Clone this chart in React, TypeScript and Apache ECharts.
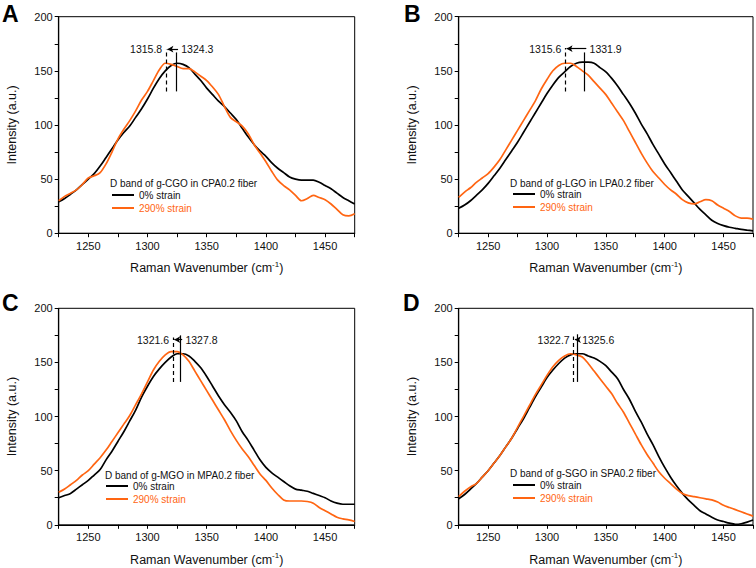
import React, { useEffect, useRef } from 'react';
import * as echarts from 'echarts';

// ---- data ----
const wavenumbers = [
  1225, 1230, 1235, 1240, 1245, 1250, 1255, 1260, 1265, 1270,
  1275, 1280, 1285, 1290, 1295, 1300, 1305, 1310, 1315, 1320,
  1325, 1330, 1335, 1340, 1345, 1350, 1355, 1360, 1365, 1370,
  1375, 1380, 1385, 1390, 1395, 1400, 1405, 1410, 1415, 1420,
  1425, 1430, 1435, 1440, 1445, 1450, 1455, 1460, 1465, 1470,
  1475,
];

const seriesNames = ['0% strain', '290% strain'];
const panelLetters = ['A', 'B', 'C', 'D'];
const panelTitles = [
  'D band of g-CGO in CPA0.2 fiber',
  'D band of g-LGO in LPA0.2 fiber',
  'D band of g-MGO in MPA0.2 fiber',
  'D band of g-SGO in SPA0.2 fiber',
];

const cgoUnstrained = [
  29, 32, 36, 40, 45, 50, 55, 62, 70, 78,
  86, 93, 99, 107, 115, 124, 134, 143, 150, 155,
  157, 156, 153, 147, 141, 134, 128, 122, 117, 111,
  105, 97, 89, 82, 76, 71, 65, 60, 56, 52,
  50, 49, 49, 49, 47, 44, 41, 37, 33, 30,
  27,
];
const cgoStrained = [
  30, 34, 37, 40, 45, 51, 53, 56, 64, 75,
  87, 96, 104, 113, 123, 131, 141, 151, 157, 156,
  154, 152, 152, 149, 145, 141, 135, 128, 117, 107,
  103, 99, 92, 82, 74, 66, 57, 49, 44, 40,
  35, 30, 32, 35, 33, 31, 27, 22, 17, 16,
  18,
];
const lgoUnstrained = [
  23, 26, 30, 35, 40, 46, 53, 60, 68, 76,
  84, 93, 102, 111, 120, 129, 137, 144, 149, 154,
  157, 158, 158, 157, 153, 149, 143, 136, 128, 120,
  111, 101, 92, 82, 73, 64, 56, 48, 40, 34,
  28, 22, 17, 12, 9, 7, 5.5, 4.5, 3.5, 2.8,
  2.2,
];
const lgoStrained = [
  33, 38, 42, 47, 51, 55, 61, 68, 77, 86,
  95, 104, 113, 122, 133, 142, 150, 155, 157, 157,
  154, 150, 146, 140, 134, 128, 120, 112, 104, 94,
  84, 74, 65, 57, 51, 45, 40, 36, 31, 28,
  27, 29, 31, 30, 26, 23, 20, 16, 14, 14,
  13,
];
const mgoUnstrained = [
  25, 27, 29, 33, 37, 41, 46, 51, 60, 68,
  77, 86, 96, 106, 118, 128, 137, 144, 150, 155,
  158, 158, 156, 151, 145, 137, 128, 119, 111, 104,
  96, 86, 78, 69, 60, 53, 48, 44, 40, 36,
  33, 32, 31, 29, 27, 25, 22, 20, 19, 19,
  19,
];
const mgoStrained = [
  30, 33, 37, 41, 46, 50, 56, 62, 69, 77,
  85, 93, 101, 111, 121, 132, 143, 151, 157, 160,
  160, 157, 151, 142, 133, 124, 115, 106, 97, 87,
  78, 70, 63, 55, 47, 41, 34, 28, 23, 22,
  22, 22, 21.5, 20, 16, 13, 10, 7, 5.5, 4.5,
  3,
];
const sgoUnstrained = [
  24, 28, 33, 38, 44, 50, 57, 64, 72, 80,
  89, 98, 108, 118, 127, 136, 143, 149, 154, 157,
  158, 158, 156, 154, 151, 147, 141, 135, 125, 116,
  105, 95, 84, 74, 63, 53, 44, 36, 29, 23,
  18, 13, 10, 7, 4.5, 3, 1.5, 0.5, 1, 2.5,
  4.5,
];
const sgoStrained = [
  26, 31, 35, 38, 44, 50, 57, 64, 72, 80,
  90, 100, 110, 120, 129, 138, 146, 152, 156, 158,
  157, 155, 149, 142, 135, 128, 121, 112, 104, 94,
  84, 74, 65, 57, 49, 43, 38, 33, 29, 27,
  26, 25, 24, 23, 21, 18, 16, 14, 12, 10,
  8,
];

const unstrainedSets = [cgoUnstrained, lgoUnstrained, mgoUnstrained, sgoUnstrained];
const strainedSets = [cgoStrained, lgoStrained, mgoStrained, sgoStrained];

// peak positions (cm-1) annotated in each panel
const peakStrained = [1315.8, 1315.6, 1321.6, 1322.7];
const peakUnstrained = [1324.3, 1331.9, 1327.8, 1325.6];
// annotation extents in intensity units
const arrowLevel = [170, 170.5, 171, 171];
const dashedTop = [170, 171, 173, 174];
const solidTop = [167, 167, 175, 176];
const markerBottom = [131, 131, 132, 132];

const xTickLabels = [1250, 1300, 1350, 1400, 1450];
const yTickLabels = [0, 50, 100, 150, 200];

// ---- style / layout ----
const FONT = "'Liberation Sans', Arial, Helvetica, sans-serif";
const BLACK = '#000000';
const ORANGE = '#ff6512';
const GRID_W = 296;
const GRID_H = 216.5;
const gridPos = [
  { left: 58.7, top: 16.7 },
  { left: 458.7, top: 16.7 },
  { left: 58.7, top: 308.3 },
  { left: 458.7, top: 308.3 },
];
const letterPos = [
  { left: 2, top: 2 },
  { left: 404, top: 2 },
  { left: 2, top: 291 },
  { left: 403, top: 291 },
];
const headerPos = [
  { left: 110, top: 177 },
  { left: 510, top: 177 },
  { left: 105, top: 469 },
  { left: 510, top: 467 },
];
const legendPos = [
  { left: 112, top: 189 },
  { left: 513, top: 188 },
  { left: 106, top: 480 },
  { left: 513, top: 479 },
];

export default function App() {
  const ref = useRef<HTMLDivElement>(null);

  useEffect(() => {
    if (!ref.current) return;
    const chart = echarts.init(ref.current, undefined, { renderer: 'svg' });

    const grid = gridPos.map((g) => ({
      left: g.left,
      top: g.top,
      width: GRID_W,
      height: GRID_H,
      show: true,
      borderColor: '#000',
      borderWidth: 1,
      backgroundColor: 'transparent',
      containLabel: false,
    }));

    const xAxis = gridPos.map((_, i) => ({
      type: 'value',
      gridIndex: i,
      min: 1225,
      max: 1475,
      interval: 25,
      name: '{n|Raman Wavenumber (cm}{s|-1}{n|)}',
      nameLocation: 'middle',
      nameGap: 27,
      nameTextStyle: {
        fontFamily: FONT,
        color: '#111',
        rich: {
          n: { fontSize: 12.5, fontFamily: FONT, color: '#111', lineHeight: 16 },
          s: { fontSize: 8, fontFamily: FONT, color: '#111', lineHeight: 9, verticalAlign: 'top' },
        },
      },
      axisLine: { show: true, onZero: false, lineStyle: { color: BLACK, width: 1.2 } },
      axisTick: { show: true, inside: false, length: 4, lineStyle: { color: BLACK, width: 1 } },
      axisLabel: {
        fontSize: 11,
        fontFamily: FONT,
        color: '#111',
        margin: 7,
        formatter: (v: number) => (xTickLabels.includes(v) ? String(v) : ''),
      },
      splitLine: { show: false },
    }));

    const yAxis = gridPos.map((_, i) => ({
      type: 'value',
      gridIndex: i,
      min: 0,
      max: 200,
      interval: 25,
      name: 'Intensity (a.u.)',
      nameLocation: 'middle',
      nameGap: 40,
      nameTextStyle: { fontSize: 12.5, fontFamily: FONT, color: '#111' },
      axisLine: { show: true, onZero: false, lineStyle: { color: BLACK, width: 1.2 } },
      axisTick: { show: true, inside: false, length: 4, lineStyle: { color: BLACK, width: 1 } },
      axisLabel: {
        fontSize: 11,
        fontFamily: FONT,
        color: '#111',
        margin: 6,
        formatter: (v: number) => (yTickLabels.includes(v) ? String(v) : ''),
      },
      splitLine: { show: false },
    }));

    const series: any[] = [];
    gridPos.forEach((_, i) => {
      const ps = peakStrained[i];
      const pu = peakUnstrained[i];
      series.push({
        type: 'line',
        name: seriesNames[0],
        xAxisIndex: i,
        yAxisIndex: i,
        data: wavenumbers.map((x, j) => [x, unstrainedSets[i][j]]),
        showSymbol: false,
        symbol: 'none',
        smooth: 0.3,
        color: BLACK,
        itemStyle: { color: BLACK },
        lineStyle: { color: BLACK, width: 1.7 },
        z: 2,
        silent: true,
        markLine: {
          silent: true,
          symbol: ['none', 'none'],
          label: { show: false },
          emphasis: { disabled: true },
          lineStyle: { color: BLACK, width: 1.2, type: 'solid' },
          data: [
            [
              { coord: [ps, markerBottom[i]], lineStyle: { type: [4, 3], color: BLACK, width: 1.2 } },
              { coord: [ps, dashedTop[i]] },
            ],
            [
              { coord: [pu, markerBottom[i]], lineStyle: { type: 'solid', color: BLACK, width: 1.2 } },
              { coord: [pu, solidTop[i]] },
            ],
            [
              { coord: [pu + 1.5, arrowLevel[i]], symbol: 'none', lineStyle: { type: 'solid', color: BLACK, width: 1.2 } },
              { coord: [ps + 1, arrowLevel[i]], symbol: 'arrow', symbolSize: [5, 6] },
            ],
          ],
        },
        markPoint: {
          silent: true,
          symbol: 'circle',
          symbolSize: 0,
          itemStyle: { color: 'transparent' },
          label: { show: true, color: '#111', fontSize: 10.5, fontFamily: FONT },
          data: [
            { coord: [ps, arrowLevel[i]], label: { position: 'left', distance: 4, formatter: String(ps) } },
            { coord: [pu, arrowLevel[i]], label: { position: 'right', distance: 5, formatter: String(pu) } },
          ],
        },
      });
      series.push({
        type: 'line',
        name: seriesNames[1],
        xAxisIndex: i,
        yAxisIndex: i,
        data: wavenumbers.map((x, j) => [x, strainedSets[i][j]]),
        showSymbol: false,
        symbol: 'none',
        smooth: 0.3,
        color: ORANGE,
        itemStyle: { color: ORANGE },
        lineStyle: { color: ORANGE, width: 1.7 },
        z: 3,
        silent: true,
      });
    });

    const title: any[] = [];
    panelLetters.forEach((t, i) => {
      title.push({
        text: t,
        left: letterPos[i].left,
        top: letterPos[i].top,
        padding: 0,
        textStyle: { fontSize: 23, fontWeight: 'bold', color: '#000', fontFamily: FONT },
      });
    });
    panelTitles.forEach((t, i) => {
      title.push({
        text: t,
        left: headerPos[i].left,
        top: headerPos[i].top,
        padding: 0,
        textStyle: { fontSize: 10, fontWeight: 'normal', color: '#111', fontFamily: FONT, lineHeight: 12 },
      });
    });

    const legend = legendPos.map((p) => ({
      left: p.left,
      top: p.top,
      orient: 'vertical',
      padding: 0,
      itemGap: 1,
      itemWidth: 22,
      itemHeight: 2,
      icon: 'rect',
      selectedMode: false,
      textStyle: { fontSize: 10, fontFamily: FONT, lineHeight: 12 },
      data: [
        { name: seriesNames[0], textStyle: { color: '#111' } },
        { name: seriesNames[1], textStyle: { color: ORANGE } },
      ],
    }));

    chart.setOption({
      animation: false,
      backgroundColor: '#fff',
      textStyle: { fontFamily: FONT },
      title,
      legend,
      grid,
      xAxis,
      yAxis,
      series,
    });

    return () => chart.dispose();
  }, []);

  return (
    <div
      ref={ref}
      style={{ position: 'absolute', left: 0, top: 0, width: 756, height: 568, background: '#fff' }}
    />
  );
}
